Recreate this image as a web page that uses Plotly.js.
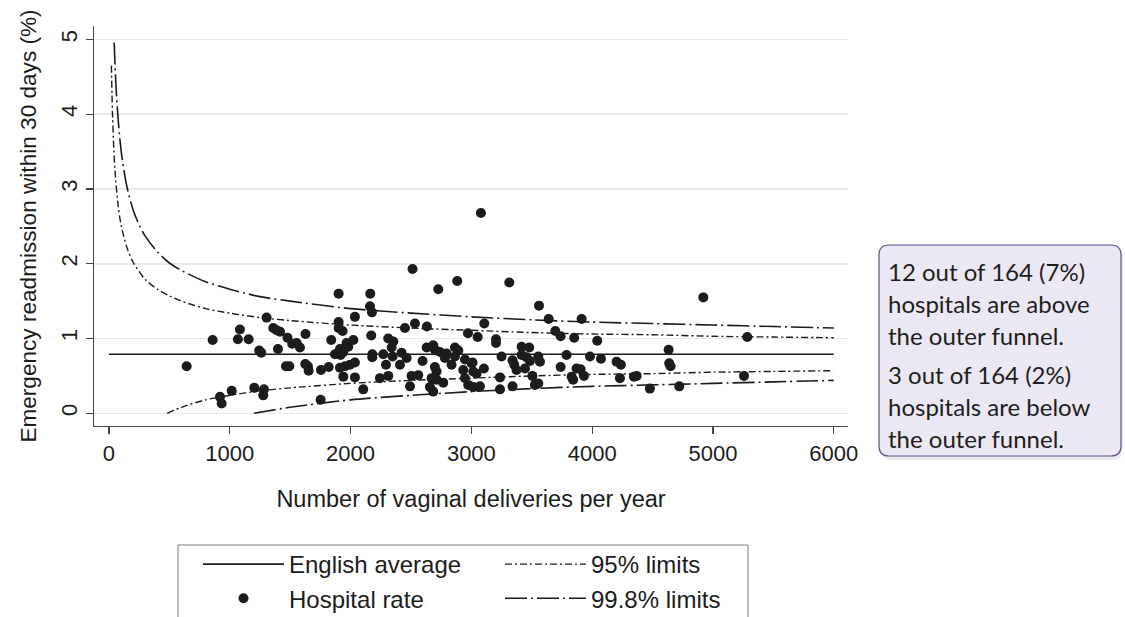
<!DOCTYPE html>
<html>
<head>
<meta charset="utf-8">
<script src="https://cdn.plot.ly/plotly-3.0.1.min.js"></script>
<style>
  html, body { margin: 0; padding: 0; background: #fff; }
  #chart { width: 1125px; height: 617px; }
</style>
</head>
<body>
<div id="chart"></div>
<script>
// English average readmission rate (%)
const averageRate = 0.79;
const averageX = [0, 6000];

// 95% control limits (upper and lower) by annual deliveries
const upper95X = [20, 25, 30, 40, 50, 75, 100, 150, 200, 300, 400, 500, 600, 800, 1000, 1250, 1500, 2000, 2500, 3000, 3500, 4000, 4500, 5000, 5500, 6000];
const upper95Y = [4.65, 4.26, 3.96, 3.53, 3.24, 2.79, 2.52, 2.21, 2.02, 1.79, 1.66, 1.57, 1.50, 1.40, 1.34, 1.28, 1.24, 1.18, 1.14, 1.11, 1.08, 1.06, 1.05, 1.03, 1.02, 1.01];
const lower95X = [482, 600, 800, 1000, 1250, 1500, 2000, 2500, 3000, 3500, 4000, 4500, 5000, 5500, 6000];
const lower95Y = [0.00, 0.08, 0.18, 0.24, 0.30, 0.34, 0.40, 0.44, 0.47, 0.50, 0.52, 0.53, 0.55, 0.56, 0.57];

// 99.8% control limits (upper and lower)
const upper998X = [43, 50, 60, 75, 100, 125, 150, 200, 250, 300, 400, 500, 600, 800, 1000, 1250, 1500, 2000, 2500, 3000, 3500, 4000, 4500, 5000, 5500, 6000];
const upper998Y = [4.96, 4.66, 4.32, 3.95, 3.52, 3.24, 3.02, 2.72, 2.52, 2.37, 2.16, 2.01, 1.91, 1.76, 1.66, 1.56, 1.50, 1.40, 1.34, 1.29, 1.25, 1.22, 1.20, 1.18, 1.16, 1.14];
const lower998X = [1200, 1500, 2000, 2500, 3000, 3500, 4000, 4500, 5000, 5500, 6000];
const lower998Y = [0.00, 0.08, 0.18, 0.24, 0.29, 0.33, 0.36, 0.38, 0.40, 0.42, 0.44];

// Hospital trusts: vaginal deliveries per year and 30-day emergency readmission rate (%)
const hospitalDeliveries = [
  643, 858, 1084, 1067, 1156, 1305, 1244, 1261, 1360, 1388, 1416, 1478, 1399, 1517, 1553, 1581, 1627, 1465, 1493, 1625,
  1647, 1653, 1755, 1819, 1840, 1901, 1901, 1901, 1934, 1967, 1912, 1940, 1871, 1918, 1912, 1954, 1940, 919, 933, 1016,
  1203, 1283, 1277, 1752, 2513, 2163, 2726, 2883, 3314, 3560, 3640, 2161, 2177, 2036, 2533, 2450, 2632, 3107, 2972, 3052,
  3204, 3204, 3695, 3739, 3851, 2171, 2023, 1981, 2312, 2354, 2340, 2180, 2180, 2271, 2348, 2422, 2464, 2409, 2293, 1995,
  2036, 2036, 2105, 2243, 2312, 2596, 2630, 2684, 2698, 2740, 2795, 2781, 2864, 2892, 2864, 2836, 2698, 2712, 2505, 2560,
  2492, 2671, 2712, 2767, 2657, 2684, 2933, 2947, 3002, 3016, 3043, 3104, 2947, 3010, 2974, 3016, 3071, 3237, 3237, 3341,
  3250, 3341, 3355, 3374, 3416, 3479, 3416, 3457, 3485, 3444, 3554, 3568, 3505, 3554, 3526, 3739, 3788, 3830, 3871, 3079,
  4920, 3913, 4042, 5284, 3982, 4073, 4202, 4238, 4633, 4638, 4649, 3904, 3932, 3843, 4230, 4346, 4368, 4478, 4721, 5257
];
const hospitalRate = [
  0.63, 0.98, 1.12, 0.99, 0.99, 1.28, 0.84, 0.81, 1.14, 1.11, 1.09, 1.01, 0.86, 0.93, 0.94, 0.88, 1.06, 0.63, 0.63, 0.66,
  0.63, 0.57, 0.58, 0.62, 0.98, 1.60, 1.22, 1.14, 1.10, 0.94, 0.86, 0.82, 0.79, 0.78, 0.61, 0.63, 0.49, 0.22, 0.13, 0.30,
  0.34, 0.32, 0.24, 0.18, 1.93, 1.60, 1.66, 1.77, 1.75, 1.44, 1.26, 1.43, 1.35, 1.29, 1.20, 1.14, 1.16, 1.20, 1.07, 1.02,
  0.99, 0.94, 1.10, 1.03, 1.01, 1.04, 0.98, 0.89, 1.00, 0.96, 0.88, 0.79, 0.75, 0.79, 0.76, 0.81, 0.74, 0.65, 0.65, 0.65,
  0.68, 0.48, 0.32, 0.47, 0.50, 0.70, 0.88, 0.91, 0.85, 0.82, 0.80, 0.74, 0.88, 0.84, 0.76, 0.65, 0.62, 0.56, 0.50, 0.51,
  0.36, 0.47, 0.45, 0.41, 0.35, 0.29, 0.58, 0.47, 0.67, 0.56, 0.53, 0.60, 0.72, 0.68, 0.38, 0.35, 0.36, 0.48, 0.32, 0.36,
  0.76, 0.71, 0.65, 0.58, 0.89, 0.88, 0.78, 0.75, 0.70, 0.60, 0.76, 0.69, 0.50, 0.40, 0.38, 0.62, 0.78, 0.49, 0.60, 2.68,
  1.55, 1.26, 0.97, 1.02, 0.76, 0.73, 0.69, 0.65, 0.85, 0.67, 0.63, 0.59, 0.50, 0.45, 0.47, 0.49, 0.50, 0.33, 0.36, 0.50
];

const xTickVals = [0, 1000, 2000, 3000, 4000, 5000, 6000];
const yTickVals = [0, 1, 2, 3, 4, 5];

const noteLines = [
  '12 out of 164 (7%)',
  'hospitals are above',
  'the outer funnel.',
  '3 out of 164 (2%)',
  'hospitals are below',
  'the outer funnel.'
];

// ---- page geometry ----
const W = 1125, H = 617;
const M = { l: 94, r: 277, t: 26, b: 191, autoexpand: false };
const plotW = W - M.l - M.r, plotH = H - M.t - M.b;
const px2x = px => (px - M.l) / plotW;
const px2y = py => (H - M.b - py) / plotH;

const ink = '#1c1c1c';
const font = 'Liberation Sans, Arial, sans-serif';
const dash95 = '7px,3px,2px,3px';
const dash998 = '22px,4px,2px,4px';

const traces = [
  {
    x: upper998X, y: upper998Y, type: 'scatter', mode: 'lines', name: '99.8% limits',
    legend: 'legend2', legendgroup: 'l998', legendrank: 4,
    line: { color: ink, width: 1.6, dash: dash998, shape: 'spline', smoothing: 0.8 }, hoverinfo: 'skip'
  },
  {
    x: lower998X, y: lower998Y, type: 'scatter', mode: 'lines', name: '99.8% limits',
    legend: 'legend2', legendgroup: 'l998', showlegend: false,
    line: { color: ink, width: 1.6, dash: dash998, shape: 'spline', smoothing: 0.8 }, hoverinfo: 'skip'
  },
  {
    x: upper95X, y: upper95Y, type: 'scatter', mode: 'lines', name: '95% limits',
    legend: 'legend2', legendgroup: 'l95', legendrank: 2,
    line: { color: ink, width: 1.4, dash: dash95, shape: 'spline', smoothing: 0.8 }, hoverinfo: 'skip'
  },
  {
    x: lower95X, y: lower95Y, type: 'scatter', mode: 'lines', name: '95% limits',
    legend: 'legend2', legendgroup: 'l95', showlegend: false,
    line: { color: ink, width: 1.4, dash: dash95, shape: 'spline', smoothing: 0.8 }, hoverinfo: 'skip'
  },
  {
    x: averageX, y: averageX.map(() => averageRate), type: 'scatter', mode: 'lines', name: 'English average',
    legend: 'legend', legendrank: 1, line: { color: ink, width: 1.6 }
  },
  {
    x: hospitalDeliveries, y: hospitalRate, type: 'scatter', mode: 'markers', name: 'Hospital rate',
    legend: 'legend', legendrank: 3, marker: { color: ink, size: 10, line: { width: 0 } }
  }
];

// rounded callout box, drawn in paper units from pixel extents
function roundedBox(x0, y0, x1, y1, r) {
  const X = px2x, Y = px2y;
  return 'M ' + X(x0 + r) + ' ' + Y(y0) +
    ' L ' + X(x1 - r) + ' ' + Y(y0) +
    ' Q ' + X(x1) + ' ' + Y(y0) + ' ' + X(x1) + ' ' + Y(y0 + r) +
    ' L ' + X(x1) + ' ' + Y(y1 - r) +
    ' Q ' + X(x1) + ' ' + Y(y1) + ' ' + X(x1 - r) + ' ' + Y(y1) +
    ' L ' + X(x0 + r) + ' ' + Y(y1) +
    ' Q ' + X(x0) + ' ' + Y(y1) + ' ' + X(x0) + ' ' + Y(y1 - r) +
    ' L ' + X(x0) + ' ' + Y(y0 + r) +
    ' Q ' + X(x0) + ' ' + Y(y0) + ' ' + X(x0 + r) + ' ' + Y(y0) + ' Z';
}

const box = { x0: 879, y0: 245, x1: 1121, y1: 456, r: 10 };
const shapes = [
  {
    type: 'path', xref: 'paper', yref: 'paper', layer: 'below',
    path: roundedBox(box.x0 + 2, box.y0 + 3, box.x1 + 2, box.y1 + 4, box.r),
    fillcolor: 'rgba(0,0,0,0.07)', line: { width: 0 }
  },
  {
    type: 'path', xref: 'paper', yref: 'paper',
    path: roundedBox(box.x0, box.y0, box.x1, box.y1, box.r),
    fillcolor: '#ebe8f3', line: { color: '#5d4c8e', width: 1.2 }
  },
  // frame round the two legend columns
  {
    type: 'rect', xref: 'paper', yref: 'paper',
    x0: px2x(178), x1: px2x(748), y0: px2y(545), y1: px2y(650),
    fillcolor: 'rgba(0,0,0,0)', line: { color: '#7a7a7a', width: 1 }
  }
];

const lineY = [271, 303, 335, 374, 406, 438];
const annotations = noteLines.map((t, i) => ({
  text: t, xref: 'paper', yref: 'paper', x: px2x(886), y: px2y(lineY[i]),
  xanchor: 'left', yanchor: 'middle', showarrow: false, align: 'left',
  font: { family: 'Lato, Open Sans, sans-serif', size: 24, color: '#1e1e1e' }
}));

const legendBase = {
  orientation: 'v', yanchor: 'top', xanchor: 'left',
  bgcolor: 'rgba(0,0,0,0)', borderwidth: 0,
  font: { family: font, size: 24, color: ink },
  indentation: 20, itemwidth: 81, tracegroupgap: 0, traceorder: 'normal'
};

const layout = {
  width: W, height: H,
  margin: M,
  paper_bgcolor: '#fff', plot_bgcolor: '#fff',
  font: { family: font, color: ink, size: 22 },
  showlegend: true,
  xaxis: {
    range: [-124, 6118], tickvals: xTickVals, ticktext: xTickVals.map(String),
    showgrid: false, zeroline: false, showline: true, linecolor: '#444', linewidth: 1.2,
    ticks: 'outside', ticklen: 7, tickcolor: '#444', tickwidth: 1.2,
    tickfont: { family: font, size: 22, color: ink },
    title: { text: 'Number of vaginal deliveries per year', font: { family: font, size: 23.5, color: ink }, standoff: 26 }
  },
  yaxis: {
    range: [-0.17, 5.18], tickvals: yTickVals, ticktext: yTickVals.map(String),
    showgrid: true, gridcolor: '#e8e8e8', gridwidth: 1.5, zeroline: false,
    showline: true, linecolor: '#444', linewidth: 1.2,
    ticks: 'outside', ticklen: 7, tickcolor: '#444', tickwidth: 1.2, tickangle: -90,
    tickfont: { family: font, size: 22, color: ink },
    title: { text: 'Emergency readmission within 30 days (%)', font: { family: font, size: 22.6, color: ink }, standoff: 14 }
  },
  legend: Object.assign({}, legendBase, { x: px2x(178), y: px2y(542) }),
  legend2: Object.assign({}, legendBase, { x: px2x(480), y: px2y(542) }),
  shapes: shapes,
  annotations: annotations
};

Plotly.newPlot('chart', traces, layout, { displayModeBar: false, staticPlot: true });
</script>
</body>
</html>
